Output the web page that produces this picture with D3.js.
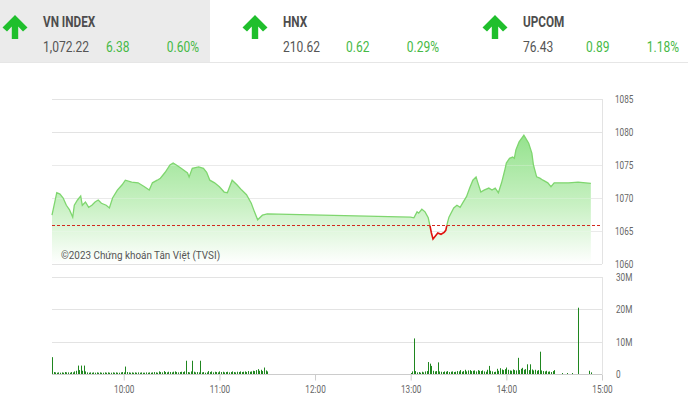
<!DOCTYPE html>
<html><head><meta charset="utf-8">
<script src="https://cdn.jsdelivr.net/npm/d3@7"></script>
<style>html,body{margin:0;padding:0;background:#fff;}svg{display:block;font-family:Roboto,"Noto Sans",sans-serif;}</style>
</head><body>
<svg id="chart" width="688" height="403"></svg>
<script>
// ---- header data ----
const indexNames = ["VN INDEX", "HNX", "UPCOM"];
const indexValues = ["1,072.22", "210.62", "76.43"];
const indexChanges = ["6.38", "0.62", "0.89"];
const indexPcts = ["0.60%", "0.29%", "1.18%"];

// ---- price data (time, index value) ----
const refPrice = 1065.84;
const priceTicks = [1060, 1065, 1070, 1075, 1080, 1085];
const priceAM = [
["9:15",1067.4],["9:18",1070.8],["9:20",1070.6],["9:22",1070.0],["9:24",1068.9],["9:26",1068.2],["9:28",1067.1],["9:29",1068.9],["9:31",1069.7],["9:33",1070.3],["9:34",1068.9],["9:36",1069.4],["9:38",1068.6],["9:40",1068.9],["9:42",1069.4],["9:44",1069.7],["9:46",1069.2],["9:49",1068.9],["9:51",1068.5],["9:53",1070.0],["9:56",1071.2],["9:59",1072.0],["10:01",1072.7],["10:05",1072.4],["10:09",1072.3],["10:13",1071.7],["10:16",1071.2],["10:18",1072.3],["10:21",1072.7],["10:23",1073.0],["10:26",1073.9],["10:29",1075.0],["10:31",1075.3],["10:33",1075.0],["10:36",1074.5],["10:40",1073.8],["10:41",1073.2],["10:43",1074.5],["10:47",1074.7],["10:50",1074.5],["10:52",1073.9],["10:54",1072.7],["10:57",1072.3],["11:00",1071.7],["11:03",1070.9],["11:05",1070.8],["11:08",1072.7],["11:11",1072.0],["11:14",1071.2],["11:17",1070.5],["11:20",1069.2],["11:22",1067.9],["11:24",1066.7],["11:27",1067.4],["11:30",1067.6]
];
const pricePM = [
["13:00",1067.1],["13:02",1067.0],["13:04",1067.9],["13:05",1067.7],["13:07",1068.3],["13:09",1067.9],["13:11",1067.0],["13:12",1065.9],["13:13",1064.7],["13:14",1063.8],["13:16",1064.4],["13:17",1064.7],["13:19",1064.5],["13:21",1064.8],["13:22",1065.1],["13:23",1066.2],["13:24",1067.1],["13:27",1068.5],["13:29",1068.9],["13:31",1068.6],["13:33",1069.4],["13:35",1070.2],["13:37",1071.5],["13:39",1072.7],["13:41",1073.2],["13:42",1072.4],["13:44",1070.9],["13:46",1071.2],["13:49",1071.5],["13:51",1071.2],["13:53",1071.5],["13:55",1070.8],["13:57",1072.3],["13:59",1074.2],["14:00",1075.3],["14:02",1076.0],["14:04",1076.2],["14:05",1076.0],["14:06",1077.3],["14:08",1078.5],["14:11",1079.5],["14:12",1079.1],["14:14",1078.3],["14:16",1076.8],["14:17",1075.0],["14:19",1073.2],["14:21",1073.0],["14:23",1072.7],["14:26",1072.3],["14:28",1071.7],["14:30",1072.3],["14:39",1072.3],["14:45",1072.4],["14:53",1072.22]
];

// ---- volume data (millions, one value per minute) ----
const volTicks = [0, 10, 20, 30];
const volAMStart = "9:15";
const volAM = [
5.2,0.6,0.5,0.4,0.5,0.4,0.5,0.4,0.6,0.5,
0.5,0.4,0.6,0.5,0.8,1.0,2.6,1.2,2.6,1.0,
2.6,0.8,0.5,0.4,0.5,0.4,0.5,0.4,0.5,0.4,
0.5,0.4,0.4,0.5,0.4,0.5,0.4,0.4,0.5,0.4,
0.5,0.4,0.4,0.5,0.6,0.5,2.3,0.6,0.5,0.4,
0.5,0.4,0.5,0.4,0.5,0.4,0.5,0.4,0.4,0.5,
0.4,0.5,0.4,0.5,0.6,0.5,0.4,0.8,0.6,0.5,
0.9,0.6,0.5,0.7,0.6,0.5,0.7,0.8,0.6,0.5,
0.6,0.7,0.6,0.8,4.1,0.6,0.5,0.8,4.1,0.7,
0.5,0.6,0.5,4.1,0.5,0.6,0.4,0.5,0.9,0.6,
0.8,0.5,0.7,0.6,0.5,0.8,0.6,0.7,0.5,0.6,
0.7,0.5,0.6,0.8,0.6,0.5,0.7,0.6,0.8,0.6,
0.7,0.8,0.6,0.9,0.7,0.8,1.0,0.9,1.2,1.5,
1.0,1.3,0.9,2.0,1.1,0.8
];
const volPMStart = "13:00";
const volPM = [
0.3,0.8,11,0.9,0.5,0.6,0.4,0.7,0.5,0.8,
0.9,3.7,3.2,2.5,1.0,0.8,0.9,3.6,0.8,0.7,
0.6,0.8,0.7,0.9,0.6,0.7,0.8,0.6,0.7,0.9,
0.8,1.2,0.7,0.9,1.3,0.8,1.1,1.2,0.9,1.0,
1.1,0.8,1.2,1.0,0.9,1.1,0.8,0.7,1.3,2.5,
1.0,0.8,0.6,0.7,1.6,1.0,1.8,1.4,1.2,1.5,
2.0,1.3,1.1,1.0,1.4,1.2,1.1,5.0,1.2,1.6,
1.9,1.3,1.5,3.0,1.2,3.0,1.4,1.1,1.3,1.0,
1.2,6.9,1.1,0.9,0.8,1.0,0.7,0.8,0.6,0.9,
1.2
];
const volLate = [["14:35",0.3],["14:38",0.3],["14:41",0.3],["14:45",20.5],["14:52",1.0],["14:53",0.5]];
const timeTicks = ["10:00","11:00","12:00","13:00","14:00","15:00"];

// ---- helpers ----
const parseT = s => { const [h,m] = s.split(":").map(Number); return new Date(2023,0,1,h,m); };
const svg = d3.select("#chart");
function label(g, x, y, s, o) {
  o = o || {};
  return g.append("text")
    .attr("transform", `translate(${x},${y}) scale(${o.sx || 0.85},1)`)
    .attr("text-anchor", o.anchor || "start")
    .attr("font-size", o.size || 14)
    .attr("font-weight", o.weight || 400)
    .attr("fill", o.color || "#555")
    .text(s);
}

// ---- header ----
svg.append("rect").attr("x",0).attr("y",0).attr("width",210).attr("height",62).attr("fill","#ebebeb");
svg.append("line").attr("x1",0).attr("x2",688).attr("y1",62.5).attr("y2",62.5).attr("stroke","#e6e6e6");
const green = "#1fbf2c";
indexNames.forEach((n, i) => {
  const bx = i * 240;
  const g = svg.append("g").attr("transform", `translate(${bx},0)`);
  g.append("path")
    .attr("d","M15,15 L27.5,27.5 L23,31.5 L18.2,26.5 L18.2,39 L11.8,39 L11.8,26.5 L7,31.5 L2.5,27.5 Z")
    .attr("fill", green);
  label(g, 43, 27, n, {weight: 700, color: "#4d4d4d", sx: 0.84});
  label(g, 43, 52, indexValues[i], {color: "#555", sx: 0.86});
  label(g, 106, 52, indexChanges[i], {color: "#46b946", sx: 0.86});
  label(g, 199, 52, indexPcts[i], {color: "#46b946", sx: 0.86, anchor: "end"});
});

// ---- scales ----
const x = d3.scaleTime().domain([parseT("9:15"), parseT("15:00")]).range([52, 602]);
const yP = d3.scaleLinear().domain([1060, 1085]).range([264, 99]);
const yV = d3.scaleLinear().domain([0, 30]).range([374, 277]);
const gridC = "#e3e3e3";

// ---- price panel ----
const pg = svg.append("g");
const defs = svg.append("defs");
const grad = defs.append("linearGradient").attr("id","pfill").attr("gradientUnits","userSpaceOnUse")
  .attr("x1",0).attr("x2",0).attr("y1",yP(1080)).attr("y2",yP(1060));
grad.append("stop").attr("offset","0%").attr("stop-color","#86de7e");
grad.append("stop").attr("offset","55%").attr("stop-color","#c2efbc");
grad.append("stop").attr("offset","100%").attr("stop-color","#ffffff");

pg.selectAll("line.pgrid").data(priceTicks).join("line").attr("class","pgrid")
  .attr("x1",52).attr("x2",602).attr("y1",d=>Math.round(yP(d))+0.5).attr("y2",d=>Math.round(yP(d))+0.5)
  .attr("stroke",gridC);

const priceAll = priceAM.concat(pricePM).map(d => ({t: parseT(d[0]), v: d[1]}));
const area = d3.area().x(d=>x(d.t)).y0(yP(1060)).y1(d=>yP(d.v));
pg.append("path").datum(priceAll).attr("d", area).attr("fill","url(#pfill)").attr("fill-opacity",0.9);
pg.selectAll("line.pgrid2").data(priceTicks.slice(1,4)).join("line").attr("class","pgrid2")
  .attr("x1",52).attr("x2",602).attr("y1",d=>Math.round(yP(d))+0.5).attr("y2",d=>Math.round(yP(d))+0.5)
  .attr("stroke","#ffffff").attr("stroke-opacity",0.25);

const yRef = yP(refPrice);
defs.append("clipPath").attr("id","above").append("rect").attr("x",0).attr("y",0).attr("width",688).attr("height",yRef);
defs.append("clipPath").attr("id","below").append("rect").attr("x",0).attr("y",yRef).attr("width",688).attr("height",403-yRef);
const line = d3.line().x(d=>x(d.t)).y(d=>yP(d.v));
pg.append("path").datum(priceAll).attr("d", line).attr("fill","none").attr("stroke","#7fd66f").attr("stroke-width",1.3).attr("clip-path","url(#above)");
pg.append("path").datum(priceAll).attr("d", line).attr("fill","none").attr("stroke","#e0120f").attr("stroke-width",1.6).attr("clip-path","url(#below)");

pg.append("line").attr("x1",52).attr("x2",602).attr("y1",Math.round(yRef)+0.5).attr("y2",Math.round(yRef)+0.5)
  .attr("stroke","#d2281f").attr("stroke-width",1).attr("stroke-dasharray","3,2");
pg.append("line").attr("x1",602.5).attr("x2",602.5).attr("y1",yP(1085)).attr("y2",yP(1060)).attr("stroke",gridC);

const pAxis = pg.append("g").attr("transform","translate(602,0)")
  .call(d3.axisRight(yP).tickValues(priceTicks).tickSize(0).tickFormat(d3.format("d")));
pAxis.select(".domain").remove();
pAxis.selectAll("text").attr("x",0).attr("dy","0.35em").attr("transform","translate(13,0) scale(0.82,1)")
  .attr("font-size",10).attr("font-family","Roboto").attr("fill","#666");

label(pg, 61, 259, "©2023 Chứng khoán Tân Việt (TVSI)", {size: 11, sx: 0.9, color: "#555"});

// ---- volume panel ----
const vg = svg.append("g");
vg.selectAll("line.vgrid").data(volTicks.slice(1)).join("line").attr("class","vgrid")
  .attr("x1",52).attr("x2",602).attr("y1",d=>Math.round(yV(d))+0.5).attr("y2",d=>Math.round(yV(d))+0.5)
  .attr("stroke",gridC);
vg.append("line").attr("x1",602.5).attr("x2",602.5).attr("y1",yV(30)).attr("y2",yV(0)).attr("stroke",gridC);

const minuteAdd = (s, i) => new Date(parseT(s).getTime() + i * 60000);
const vols = volAM.map((v,i)=>({t: minuteAdd(volAMStart,i), v}))
  .concat(volPM.map((v,i)=>({t: minuteAdd(volPMStart,i), v})))
  .concat(volLate.map(d=>({t: parseT(d[0]), v: d[1]})));
vg.selectAll("line.vbar").data(vols).join("line").attr("class","vbar")
  .attr("x1",d=>Math.round(x(d.t))+0.5).attr("x2",d=>Math.round(x(d.t))+0.5)
  .attr("y1",yV(0)).attr("y2",d=>yV(d.v))
  .attr("stroke","#1f861f").attr("stroke-width",1);

const xAxis = vg.append("g").attr("transform",`translate(0,${Math.round(yV(0))+0.5})`)
  .call(d3.axisBottom(x).tickValues(timeTicks.map(parseT)).tickSize(6).tickPadding(5).tickFormat(d3.timeFormat("%H:%M")));
xAxis.select(".domain").attr("stroke","#cccccc").attr("d","M52,0H602");
xAxis.selectAll(".tick line").attr("stroke","#cccccc");
xAxis.selectAll("text").attr("transform","scale(0.82,1)").attr("font-size",10).attr("font-family","Roboto").attr("fill","#666");

const vAxis = vg.append("g").attr("transform","translate(602,0)")
  .call(d3.axisRight(yV).tickValues(volTicks).tickSize(0).tickFormat(d=> d ? d + "M" : "0"));
vAxis.select(".domain").remove();
vAxis.selectAll("text").attr("x",0).attr("dy","0.35em").attr("transform","translate(14,0) scale(0.82,1)")
  .attr("font-size",10).attr("font-family","Roboto").attr("fill","#666");
</script>
</body></html>
